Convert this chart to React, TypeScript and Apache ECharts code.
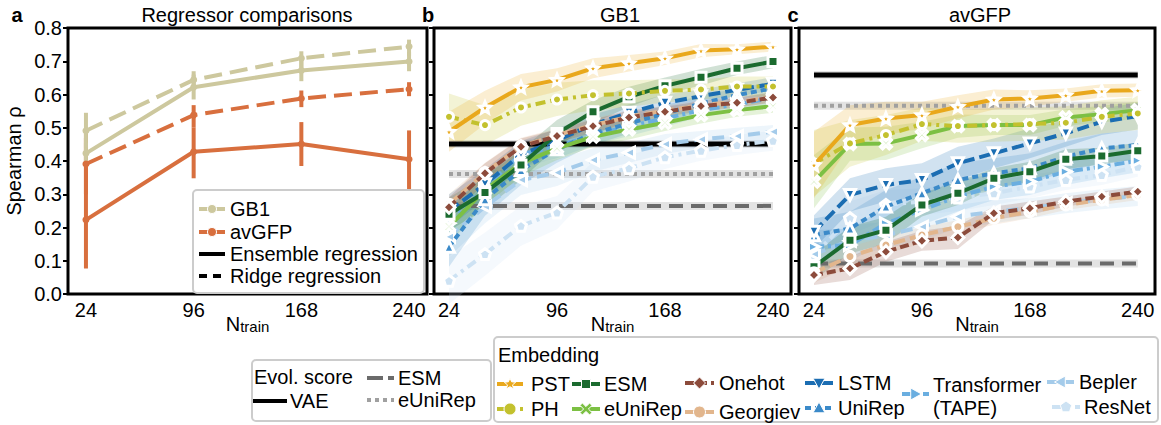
import React, { useEffect, useRef } from 'react';
import * as echarts from 'echarts';

const FONT = '"Liberation Sans", Arial, Helvetica, sans-serif';

// ---------- data ----------
const N_TRAIN = [24, 48, 72, 96, 120, 144, 168, 192, 216, 240];
const N_TICKS = [24, 96, 168, 240];

// panel a : regressor comparisons
const A_N = [24, 96, 168, 240];
const GB1_ENSEMBLE = [0.423, 0.622, 0.672, 0.699];
const GB1_ENSEMBLE_LO = [0.395, 0.585, 0.64, 0.67];
const GB1_ENSEMBLE_HI = [0.455, 0.66, 0.705, 0.728];
const GB1_RIDGE = [0.491, 0.644, 0.709, 0.744];
const GB1_RIDGE_LO = [0.44, 0.615, 0.68, 0.715];
const GB1_RIDGE_HI = [0.545, 0.67, 0.73, 0.765];
const GFP_ENSEMBLE = [0.223, 0.428, 0.451, 0.405];
const GFP_ENSEMBLE_LO = [0.077, 0.348, 0.385, 0.31];
const GFP_ENSEMBLE_HI = [0.488, 0.5, 0.517, 0.492];
const GFP_RIDGE = [0.391, 0.538, 0.588, 0.616];
const GFP_RIDGE_LO = [0.3, 0.5, 0.562, 0.595];
const GFP_RIDGE_HI = [0.47, 0.568, 0.612, 0.637];

// evolutionary scores (VAE, ESM, eUniRep)
const EVO_NAMES = ['VAE', 'ESM', 'eUniRep'];
const GB1_EVO = [0.451, 0.265, 0.361];
const GFP_EVO = [0.659, 0.092, 0.566];
const EVO_BAND = [0.012, 0.012, 0.012];

const EMB_NAMES = ['PST', 'PH', 'ESM', 'eUniRep', 'Onehot', 'Georgiev', 'LSTM', 'UniRep', 'Transformer (TAPE)', 'Bepler', 'ResNet'];

// panel b : GB1
const GB1_PST = [0.488, 0.561, 0.622, 0.644, 0.679, 0.694, 0.709, 0.732, 0.736, 0.744];
const GB1_PH = [0.533, 0.508, 0.561, 0.585, 0.598, 0.603, 0.611, 0.615, 0.624, 0.624];
const GB1_ESM = [0.24, 0.305, 0.388, 0.483, 0.548, 0.593, 0.626, 0.652, 0.679, 0.699];
const GB1_EUNIREP = [0.203, 0.313, 0.393, 0.438, 0.473, 0.495, 0.515, 0.538, 0.553, 0.565];
const GB1_ONEHOT = [0.261, 0.363, 0.443, 0.475, 0.505, 0.531, 0.548, 0.565, 0.575, 0.591];
const GB1_GEORGIEV = [0.27, 0.365, 0.445, 0.478, 0.508, 0.533, 0.552, 0.568, 0.578, 0.592];
const GB1_LSTM = [0.25, 0.33, 0.42, 0.462, 0.51, 0.545, 0.575, 0.595, 0.614, 0.632];
const GB1_UNIREP = [0.142, 0.285, 0.373, 0.435, 0.483, 0.513, 0.543, 0.573, 0.598, 0.619];
const GB1_TAPE = [0.213, 0.321, 0.421, 0.443, 0.478, 0.505, 0.528, 0.553, 0.57, 0.59];
const GB1_BEPLER = [0.172, 0.263, 0.343, 0.365, 0.403, 0.425, 0.451, 0.465, 0.475, 0.488];
const GB1_RESNET = [0.04, 0.12, 0.205, 0.245, 0.353, 0.378, 0.411, 0.431, 0.448, 0.461];

const GB1_PST_SD = [0.06, 0.05, 0.04, 0.035, 0.03, 0.025, 0.02, 0.02, 0.015, 0.015];
const GB1_PH_SD = [0.07, 0.06, 0.055, 0.05, 0.045, 0.04, 0.035, 0.03, 0.03, 0.03];
const GB1_ESM_SD = [0.05, 0.05, 0.045, 0.04, 0.035, 0.03, 0.025, 0.025, 0.02, 0.02];
const GB1_EUNIREP_SD = [0.05, 0.045, 0.04, 0.035, 0.03, 0.03, 0.025, 0.025, 0.02, 0.02];
const GB1_ONEHOT_SD = [0.03, 0.03, 0.025, 0.02, 0.02, 0.02, 0.015, 0.015, 0.015, 0.015];
const GB1_GEORGIEV_SD = [0.03, 0.03, 0.025, 0.02, 0.02, 0.02, 0.015, 0.015, 0.015, 0.015];
const GB1_LSTM_SD = [0.05, 0.045, 0.04, 0.035, 0.03, 0.025, 0.025, 0.02, 0.02, 0.02];
const GB1_UNIREP_SD = [0.06, 0.05, 0.045, 0.04, 0.035, 0.03, 0.025, 0.025, 0.02, 0.02];
const GB1_TAPE_SD = [0.05, 0.045, 0.04, 0.035, 0.03, 0.03, 0.025, 0.02, 0.02, 0.02];
const GB1_BEPLER_SD = [0.06, 0.05, 0.045, 0.04, 0.035, 0.03, 0.03, 0.025, 0.025, 0.02];
const GB1_RESNET_SD = [0.07, 0.065, 0.06, 0.05, 0.045, 0.04, 0.035, 0.03, 0.03, 0.03];

// panel c : avGFP
const GFP_PST = [0.388, 0.508, 0.528, 0.538, 0.563, 0.585, 0.588, 0.598, 0.611, 0.613];
const GFP_PH = [0.393, 0.453, 0.478, 0.511, 0.505, 0.508, 0.511, 0.515, 0.533, 0.543];
const GFP_ESM = [0.082, 0.162, 0.192, 0.268, 0.303, 0.348, 0.368, 0.405, 0.415, 0.431];
const GFP_EUNIREP = [0.338, 0.451, 0.453, 0.478, 0.505, 0.508, 0.508, 0.531, 0.541, 0.553];
const GFP_ONEHOT = [0.057, 0.077, 0.127, 0.16, 0.17, 0.243, 0.258, 0.278, 0.293, 0.308];
const GFP_GEORGIEV = [0.064, 0.113, 0.147, 0.177, 0.202, 0.228, 0.248, 0.268, 0.283, 0.298];
const GFP_LSTM = [0.187, 0.298, 0.328, 0.343, 0.393, 0.423, 0.453, 0.483, 0.518, 0.535];
const GFP_UNIREP = [0.177, 0.197, 0.263, 0.303, 0.343, 0.363, 0.378, 0.413, 0.438, 0.448];
const GFP_TAPE = [0.142, 0.147, 0.212, 0.253, 0.293, 0.323, 0.338, 0.368, 0.383, 0.401];
const GFP_BEPLER = [0.12, 0.16, 0.177, 0.202, 0.233, 0.248, 0.258, 0.273, 0.285, 0.295];
const GFP_RESNET = [0.117, 0.228, 0.268, 0.278, 0.29, 0.303, 0.323, 0.343, 0.358, 0.383];

const GFP_PST_SD = [0.1, 0.06, 0.05, 0.04, 0.035, 0.03, 0.025, 0.02, 0.02, 0.02];
const GFP_PH_SD = [0.1, 0.07, 0.06, 0.05, 0.05, 0.05, 0.05, 0.05, 0.05, 0.05];
const GFP_ESM_SD = [0.04, 0.04, 0.04, 0.035, 0.035, 0.03, 0.03, 0.03, 0.025, 0.025];
const GFP_EUNIREP_SD = [0.08, 0.05, 0.05, 0.04, 0.035, 0.03, 0.03, 0.025, 0.025, 0.025];
const GFP_ONEHOT_SD = [0.03, 0.035, 0.03, 0.03, 0.035, 0.02, 0.02, 0.015, 0.015, 0.015];
const GFP_GEORGIEV_SD = [0.03, 0.03, 0.025, 0.025, 0.02, 0.02, 0.02, 0.015, 0.015, 0.015];
const GFP_LSTM_SD = [0.05, 0.05, 0.05, 0.05, 0.05, 0.045, 0.045, 0.04, 0.04, 0.04];
const GFP_UNIREP_SD = [0.05, 0.05, 0.05, 0.05, 0.05, 0.045, 0.045, 0.045, 0.045, 0.045];
const GFP_TAPE_SD = [0.05, 0.05, 0.05, 0.045, 0.045, 0.04, 0.04, 0.04, 0.035, 0.035];
const GFP_BEPLER_SD = [0.05, 0.045, 0.04, 0.04, 0.035, 0.035, 0.03, 0.03, 0.03, 0.03];
const GFP_RESNET_SD = [0.06, 0.05, 0.045, 0.04, 0.04, 0.035, 0.035, 0.03, 0.03, 0.03];

const GB1_VALUES = [GB1_PST, GB1_PH, GB1_ESM, GB1_EUNIREP, GB1_ONEHOT, GB1_GEORGIEV, GB1_LSTM, GB1_UNIREP, GB1_TAPE, GB1_BEPLER, GB1_RESNET];
const GB1_SDS = [GB1_PST_SD, GB1_PH_SD, GB1_ESM_SD, GB1_EUNIREP_SD, GB1_ONEHOT_SD, GB1_GEORGIEV_SD, GB1_LSTM_SD, GB1_UNIREP_SD, GB1_TAPE_SD, GB1_BEPLER_SD, GB1_RESNET_SD];
const GFP_VALUES = [GFP_PST, GFP_PH, GFP_ESM, GFP_EUNIREP, GFP_ONEHOT, GFP_GEORGIEV, GFP_LSTM, GFP_UNIREP, GFP_TAPE, GFP_BEPLER, GFP_RESNET];
const GFP_SDS = [GFP_PST_SD, GFP_PH_SD, GFP_ESM_SD, GFP_EUNIREP_SD, GFP_ONEHOT_SD, GFP_GEORGIEV_SD, GFP_LSTM_SD, GFP_UNIREP_SD, GFP_TAPE_SD, GFP_BEPLER_SD, GFP_RESNET_SD];

// ---------- styles ----------
const C_GB1 = '#cdc89e';
const C_GFP = '#d86f3e';

const SHAPES: Record<string, number[][]> = {
  diamond: [[0, -1], [1, 0], [0, 1], [-1, 0]],
  triUp: [[0, -1], [1, 0.8], [-1, 0.8]],
  triDown: [[0, 1], [1, -0.8], [-1, -0.8]],
  triRight: [[1, 0], [-0.8, -1], [-0.8, 1]],
  triLeft: [[-1, 0], [0.8, -1], [0.8, 1]],
  x: [[-1, -0.6], [-0.6, -1], [0, -0.4], [0.6, -1], [1, -0.6], [0.4, 0], [1, 0.6], [0.6, 1], [0, 0.4], [-0.6, 1], [-1, 0.6], [-0.4, 0]],
  star: Array.from({ length: 10 }, (_, k) => {
    const a = ((-90 + k * 36) * Math.PI) / 180;
    const r = k % 2 ? 0.45 : 1;
    return [r * Math.cos(a), r * Math.sin(a)];
  }),
  pentagon: Array.from({ length: 5 }, (_, k) => {
    const a = ((-90 + k * 72) * Math.PI) / 180;
    return [Math.cos(a), Math.sin(a)];
  }),
};

function symbolOf(kind: string) {
  if (kind === 'circle' || kind === 'rect') return kind;
  const pts = SHAPES[kind];
  return 'path://' + pts.map((p, i) => `${i ? 'L' : 'M'}${(p[0] * 10 + 10).toFixed(2)},${(p[1] * 10 + 10).toFixed(2)}`).join(' ') + ' Z';
}

const EMB_STYLE = [
  { color: '#e9a81c', dash: 'solid', marker: 'star', size: 11 },
  { color: '#c3c12e', dash: [10, 5, 3, 5], marker: 'circle', size: 9 },
  { color: '#1b6b2f', dash: 'solid', marker: 'rect', size: 10 },
  { color: '#7cc043', dash: 'solid', marker: 'x', size: 11 },
  { color: '#8c4b3b', dash: [9, 4], marker: 'diamond', size: 12 },
  { color: '#e2b68d', dash: [12, 5], marker: 'circle', size: 10 },
  { color: '#1b6db2', dash: [12, 5], marker: 'triDown', size: 11 },
  { color: '#3b8ac9', dash: [6, 4], marker: 'triUp', size: 11 },
  { color: '#6aaee0', dash: [10, 4, 3, 4], marker: 'triRight', size: 11 },
  { color: '#a4cbea', dash: [12, 6], marker: 'triLeft', size: 11 },
  { color: '#cde2f3', dash: [10, 5, 3, 5], marker: 'pentagon', size: 11 },
];
const DRAW_ORDER = [10, 9, 8, 7, 6, 3, 2, 5, 4, 1, 0];
const EVO_STYLE = [
  { color: '#000000', dash: 'solid', width: 5 },
  { color: '#6b6b6b', dash: [14, 8], width: 4 },
  { color: '#a0a0a0', dash: [4, 4], width: 4 },
];

// ---------- option builders ----------
function xAxisCfg(gridIndex: number, min: number, max: number) {
  return {
    type: 'value', gridIndex, min, max,
    axisLine: { show: false }, splitLine: { show: false },
    axisTick: { show: false },
    axisLabel: { customValues: N_TICKS, fontSize: 20, color: '#000', fontFamily: FONT, margin: 6 },
    name: '{n|N}{t|train}', nameLocation: 'middle', nameGap: 20, nameMoveOverlap: false,
    nameTextStyle: {
      rich: {
        n: { fontSize: 20, fontFamily: FONT, color: '#000', verticalAlign: 'bottom' },
        t: { fontSize: 15, fontFamily: FONT, color: '#000', verticalAlign: 'bottom' },
      },
    },
  };
}
function yAxisCfg(gridIndex: number, labels: boolean) {
  return {
    type: 'value', gridIndex, min: 0, max: 0.8, interval: 0.1,
    axisLine: { show: false }, splitLine: { show: false },
    axisTick: { show: true, length: 5, inside: false, lineStyle: { color: '#000', width: 2 } },
    axisLabel: { show: labels, fontSize: 20, color: '#000', fontFamily: FONT, margin: 6, formatter: (v: number) => v.toFixed(1) },
    name: labels ? 'Spearman ρ' : '', nameLocation: 'middle', nameGap: 44, nameMoveOverlap: false,
    nameTextStyle: { fontSize: 20, color: '#000', fontFamily: FONT },
  };
}

function bandSeries(gi: number, xs: number[], lo: number[], hi: number[], color: string, opacity: number, z: number) {
  return {
    type: 'custom', xAxisIndex: gi, yAxisIndex: gi, silent: true, z,
    data: [[xs[0], lo[0]]],
    encode: { x: 0, y: 1 },
    renderItem: (params: any, api: any) => {
      const top = xs.map((x, i) => api.coord([x, hi[i]]));
      const bot = xs.map((x, i) => api.coord([x, lo[i]])).reverse();
      return { type: 'polygon', shape: { points: top.concat(bot) }, style: { fill: color, opacity } };
    },
  };
}

function panelSeries(gi: number, values: number[][], sds: number[][], evo: number[]) {
  const out: any[] = [];
  evo.forEach((v, k) => {
    const b = EVO_BAND[k];
    out.push(bandSeries(gi, [24, 240], [v - b, v - b], [v + b, v + b], '#9a9a9a', 0.28, 1));
    out.push({
      type: 'line', name: EVO_NAMES[k], xAxisIndex: gi, yAxisIndex: gi, z: 3, silent: true,
      data: [[24, v], [240, v]], symbol: 'none',
      lineStyle: { color: EVO_STYLE[k].color, width: EVO_STYLE[k].width, type: EVO_STYLE[k].dash },
    });
  });
  DRAW_ORDER.forEach((j, order) => {
    const st = EMB_STYLE[j];
    const vals = values[j];
    const sd = sds[j];
    out.push(bandSeries(gi, N_TRAIN, vals.map((v, i) => v - sd[i]), vals.map((v, i) => v + sd[i]), st.color, 0.2, 2));
    out.push({
      type: 'line', name: EMB_NAMES[j], xAxisIndex: gi, yAxisIndex: gi, z: 5 + order, silent: true,
      data: N_TRAIN.map((x, i) => [x, vals[i]]),
      symbol: symbolOf(st.marker), symbolSize: st.size,
      itemStyle: { color: st.color, borderColor: '#fff', borderWidth: 3 },
      lineStyle: { color: st.color, width: 4, type: st.dash },
    });
  });
  return out;
}

function errSeries(vals: number[], lo: number[], hi: number[], color: string) {
  return {
    type: 'custom', xAxisIndex: 0, yAxisIndex: 0, silent: true, z: 3,
    data: A_N.map((n, i) => [n, lo[i], hi[i]]),
    encode: { x: 0, y: [1, 2] },
    renderItem: (params: any, api: any) => {
      const p1 = api.coord([api.value(0), api.value(1)]);
      const p2 = api.coord([api.value(0), api.value(2)]);
      return { type: 'line', shape: { x1: p1[0], y1: p1[1], x2: p2[0], y2: p2[1] }, style: { stroke: color, lineWidth: 4 } };
    },
  };
}
function aLine(name: string, vals: number[], color: string, dashed: boolean) {
  return {
    type: 'line', name, xAxisIndex: 0, yAxisIndex: 0, z: 4, silent: true,
    data: A_N.map((n, i) => [n, vals[i]]),
    symbol: 'circle', symbolSize: 7,
    itemStyle: { color },
    lineStyle: { color, width: 4, type: dashed ? [18, 8] : 'solid' },
  };
}

// ---------- legend graphics ----------
function txt(text: string, x: number, y: number, opts: any = {}) {
  return {
    type: 'text', x, y, z: 101,
    style: {
      text, fill: '#000', font: `${opts.bold ? 'bold ' : ''}${opts.size || 20}px ${FONT}`,
      textAlign: opts.align || 'left', align: opts.align || 'left',
      textVerticalAlign: 'middle', verticalAlign: 'middle',
    },
  };
}
function seg(x1: number, x2: number, y: number, color: string, width: number, dash?: any) {
  return {
    type: 'line', z: 101, shape: { x1, y1: y, x2, y2: y },
    style: { stroke: color, lineWidth: width, lineDash: dash && dash !== 'solid' ? dash : null },
  };
}
function marker(kind: string, cx: number, cy: number, r: number, color: string) {
  const style = { fill: color, stroke: '#fff', lineWidth: 1 };
  if (kind === 'circle') return { type: 'circle', z: 102, shape: { cx, cy, r }, style };
  if (kind === 'rect') return { type: 'rect', z: 102, shape: { x: cx - r, y: cy - r, width: 2 * r, height: 2 * r }, style };
  return { type: 'polygon', z: 102, shape: { points: SHAPES[kind].map((p) => [cx + p[0] * r, cy + p[1] * r]) }, style };
}
function box(x: number, y: number, w: number, h: number) {
  return {
    type: 'rect', z: 100, shape: { x, y, width: w, height: h, r: 4 },
    style: { fill: 'rgba(255,255,255,0.85)', stroke: '#cccccc', lineWidth: 2 },
  };
}

function buildGraphics() {
  const g: any[] = [];
  // titles & panel letters
  g.push(txt('Regressor comparisons', 247, 15, { align: 'center' }));
  g.push(txt('GB1', 620, 15, { align: 'center' }));
  g.push(txt('avGFP', 980, 15, { align: 'center' }));
  g.push(txt('a', 17, 15, { align: 'center', bold: true }));
  g.push(txt('b', 428, 15, { align: 'center', bold: true }));
  g.push(txt('c', 793, 15, { align: 'center', bold: true }));

  // panel a legend
  g.push(box(193, 190, 231, 103));
  g.push(seg(199, 225, 209, C_GB1, 4));
  g.push(marker('circle', 212, 209, 4.5, C_GB1));
  g.push(txt('GB1', 230, 209));
  g.push(seg(199, 225, 232, C_GFP, 4));
  g.push(marker('circle', 212, 232, 4.5, C_GFP));
  g.push(txt('avGFP', 230, 232));
  g.push(seg(199, 225, 254, '#000', 4));
  g.push(txt('Ensemble regression', 230, 254));
  g.push(seg(199, 225, 276, '#000', 4, [8, 6]));
  g.push(txt('Ridge regression', 230, 276));

  // evolutionary score legend
  g.push(box(252, 360, 239, 61));
  g.push(txt('Evol. score', 254, 377));
  g.push(seg(367, 394, 378, EVO_STYLE[1].color, 4, [16, 5]));
  g.push(txt('ESM', 398, 378));
  g.push(seg(253, 287, 401, '#000', 4));
  g.push(txt('VAE', 290, 401));
  g.push(seg(367, 394, 400, EVO_STYLE[2].color, 4, [4, 4]));
  g.push(txt('eUniRep', 398, 400));

  // embedding legend
  g.push(box(494, 337, 664, 85));
  g.push(txt('Embedding', 498, 355));
  const items: [number, number, number, number, number][] = [
    // index, x1, x2, y, textX
    [0, 497, 523, 384, 531],
    [1, 497, 523, 409, 531],
    [2, 572, 600, 384, 604],
    [3, 572, 600, 409, 604],
    [4, 685, 714, 383, 719],
    [5, 685, 714, 412, 719],
    [6, 805, 833, 383, 838],
    [7, 805, 833, 408, 838],
    [8, 902, 929, 394, 933],
    [9, 1047, 1074, 382, 1079],
    [10, 1052, 1080, 407, 1084],
  ];
  items.forEach(([j, x1, x2, y, tx]) => {
    const st = EMB_STYLE[j];
    g.push(seg(x1, x2, y, st.color, 4, st.dash));
    g.push(marker(st.marker, (x1 + x2) / 2, y, st.marker === 'rect' ? 4.5 : 6, st.color));
    if (j === 8) {
      g.push(txt('Transformer', tx, 385));
      g.push(txt('(TAPE)', tx, 408));
    } else {
      g.push(txt(EMB_NAMES[j], tx, y));
    }
  });
  return g;
}

function buildOption() {
  const grids = [
    { left: 68, top: 28, width: 359, height: 266 },
    { left: 434, top: 28, width: 357, height: 266 },
    { left: 799, top: 28, width: 356, height: 266 },
  ].map((g) => ({ ...g, show: true, borderColor: '#000', borderWidth: 3, backgroundColor: 'transparent', containLabel: false }));

  const series: any[] = [
    errSeries(GFP_ENSEMBLE, GFP_ENSEMBLE_LO, GFP_ENSEMBLE_HI, C_GFP),
    errSeries(GFP_RIDGE, GFP_RIDGE_LO, GFP_RIDGE_HI, C_GFP),
    errSeries(GB1_ENSEMBLE, GB1_ENSEMBLE_LO, GB1_ENSEMBLE_HI, C_GB1),
    errSeries(GB1_RIDGE, GB1_RIDGE_LO, GB1_RIDGE_HI, C_GB1),
    aLine('avGFP ensemble', GFP_ENSEMBLE, C_GFP, false),
    aLine('avGFP ridge', GFP_RIDGE, C_GFP, true),
    aLine('GB1 ensemble', GB1_ENSEMBLE, C_GB1, false),
    aLine('GB1 ridge', GB1_RIDGE, C_GB1, true),
    ...panelSeries(1, GB1_VALUES, GB1_SDS, GB1_EVO),
    ...panelSeries(2, GFP_VALUES, GFP_SDS, GFP_EVO),
  ];

  return {
    animation: false,
    backgroundColor: '#fff',
    textStyle: { fontFamily: FONT },
    grid: grids,
    xAxis: [xAxisCfg(0, 12, 252), xAxisCfg(1, 14, 252), xAxisCfg(2, 14, 251.5)],
    yAxis: [yAxisCfg(0, true), yAxisCfg(1, false), yAxisCfg(2, false)],
    series,
    graphic: buildGraphics(),
  };
}

export default function App() {
  const ref = useRef<HTMLDivElement>(null);
  useEffect(() => {
    const chart = echarts.init(ref.current!, null, { renderer: 'svg' });
    chart.setOption(buildOption() as any);
    return () => chart.dispose();
  }, []);
  return (
    <div
      ref={ref}
      style={{ position: 'fixed', left: 0, top: 0, width: 1161, height: 425, background: '#fff' }}
    />
  );
}
